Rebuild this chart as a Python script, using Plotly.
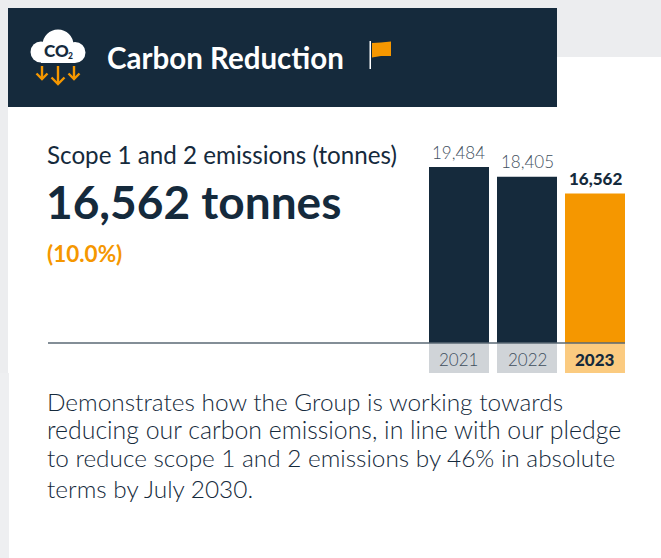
import plotly.graph_objects as go

W, H = 661, 558
years = ["2021", "2022", "2023"]
emissions = [19484, 18405, 16562]
emission_labels = ["19,484", "18,405", "16,562"]
bar_colors = ["#152A3C", "#152A3C", "#F59700"]
cell_colors = ["#D0D4D8", "#D0D4D8", "#FBCB80"]
label_colors = ["#3F4F5E", "#3F4F5E", "#152A3C"]
label_weights = [300, 300, 900]
year_weights = [300, 300, 900]
title = "Carbon Reduction"
subtitle = "Scope 1 and 2 emissions (tonnes)"
headline = "16,562 tonnes"
change = "(10.0%)"
body_lines = [
    "Demonstrates how the Group is working towards",
    "reducing our carbon emissions, in line with our pledge",
    "to reduce scope 1 and 2 emissions by 46% in absolute",
    "terms by July 2030.",
]
body_baselines = [408, 436, 464, 495]
body_sizes = [24.4, 24.85, 24.35, 24.4]

NAVY = "#152A3C"
ORANGE = "#F59700"
GREY = "#ECEDEF"
FONT = "Lato"

def px(x):
    return x / W

def py(y):
    return 1 - y / H

PLOT_L, PLOT_R, PLOT_T, PLOT_B = 425, 629, 143, 343
PX_PER_UNIT = 176 / 19484
y_max = (PLOT_B - PLOT_T) / PX_PER_UNIT

fig = go.Figure()
fig.add_trace(go.Bar(
    x=years, y=emissions, marker=dict(color=bar_colors, line=dict(width=0)),
    hoverinfo="skip", showlegend=False,
))

shapes = []

def rect(x0, y0, x1, y1, color, layer="below"):
    shapes.append(dict(type="rect", xref="paper", yref="paper",
                       x0=px(x0), x1=px(x1), y0=py(y1), y1=py(y0),
                       fillcolor=color, line=dict(width=0), layer=layer))

def path(points, fill=None, stroke=None, width=0, close=False):
    d = "M " + " L ".join(f"{px(x):.5f},{py(y):.5f}" for x, y in points)
    if close:
        d += " Z"
    shapes.append(dict(type="path", xref="paper", yref="paper", path=d, layer="above",
                       fillcolor=fill if fill else "rgba(0,0,0,0)",
                       line=dict(color=stroke if stroke else "rgba(0,0,0,0)", width=width)))

def circle(cx, cy, r, color):
    shapes.append(dict(type="circle", xref="paper", yref="paper", layer="above",
                       x0=px(cx - r), x1=px(cx + r), y0=py(cy + r), y1=py(cy - r),
                       fillcolor=color, line=dict(width=0)))

# page panels
rect(0, 0, W, 57, GREY)
rect(0, 0, 8, 373, GREY)
rect(0, 373, 9, H, "#EEEFF1")
rect(8, 8, 557, 107, NAVY)

# year cells under the bars
for i, c in enumerate(cell_colors):
    shapes.append(dict(type="rect", xref="x", yref="paper", x0=i - 0.441, x1=i + 0.441,
                       y0=py(373), y1=py(343), fillcolor=c, line=dict(width=0), layer="below"))
# baseline
rect(48, 342.2, 625, 343.8, "#5A6875", "above")

# cloud icon
circle(41, 52, 10.5, "white")
circle(58, 45, 15.5, "white")
circle(75, 52.5, 10.5, "white")
rect(41, 50, 75, 63, "white", "above")
# arrows
for cx, top, bot, hw in [(42, 66, 79, 5.5), (58, 66, 84, 6.5), (74, 66, 79, 5.5)]:
    path([(cx, top), (cx, bot)], stroke=ORANGE, width=2.4)
    path([(cx - hw, bot - hw), (cx, bot), (cx + hw, bot - hw)], stroke=ORANGE, width=2.4)
# flag
rect(369.5, 41, 371, 69, "white", "above")
path([(372, 43), (381, 42.5), (391, 41.5), (391, 56), (381, 56), (372, 57.5)], fill=ORANGE, close=True)

annotations = []

def text(x, y, s, size, color, weight=400, anchor="left", yanchor="middle", xref="paper", family=FONT):
    annotations.append(dict(
        x=x if xref != "paper" else px(x), y=py(y), xref=xref, yref="paper", text=s,
        showarrow=False, xanchor=anchor, yanchor=yanchor,
        font=dict(family=family, size=size, color=color, weight=weight),
        borderpad=0, borderwidth=0, align="left"))

text(106.5, 57, title, 29.5, "white", 700)
text(56, 50.5, "CO", 17, NAVY, 900, "center")
text(70.5, 56.5, "2", 8.5, NAVY, 900, "center")
text(46.5, 154.5, subtitle, 24.2, NAVY, 400)
text(46, 201, headline, 46, NAVY, 700)
text(46.5, 253, change, 22.5, ORANGE, 700)

for i, yr in enumerate(years):
    text(i, 359, yr, 17, label_colors[i], year_weights[i], "center", xref="x")
    top = PLOT_B - emissions[i] * PX_PER_UNIT
    text(i, top - 15, emission_labels[i], 17, label_colors[i], label_weights[i], "center", xref="x")

for line, base, size in zip(body_lines, body_baselines, body_sizes):
    text(46.5, base - 7, line, size, NAVY, 300)

fig.update_layout(
    width=W, height=H, autosize=False,
    margin=dict(l=0, r=0, t=0, b=0, pad=0),
    paper_bgcolor="white", plot_bgcolor="rgba(0,0,0,0)",
    bargap=8 / 68, shapes=shapes, annotations=annotations,
    xaxis=dict(domain=[px(PLOT_L), px(PLOT_R)], type="category", range=[-0.5, 2.5],
               showticklabels=False, showgrid=False, zeroline=False, showline=False, ticks=""),
    yaxis=dict(domain=[py(PLOT_B), py(PLOT_T)], range=[0, y_max],
               showticklabels=False, showgrid=False, zeroline=False, showline=False, ticks=""),
)
fig.write_html("out.html", config={"displayModeBar": False},
               post_script="document.body.style.margin='0';document.documentElement.style.overflow='hidden';")
